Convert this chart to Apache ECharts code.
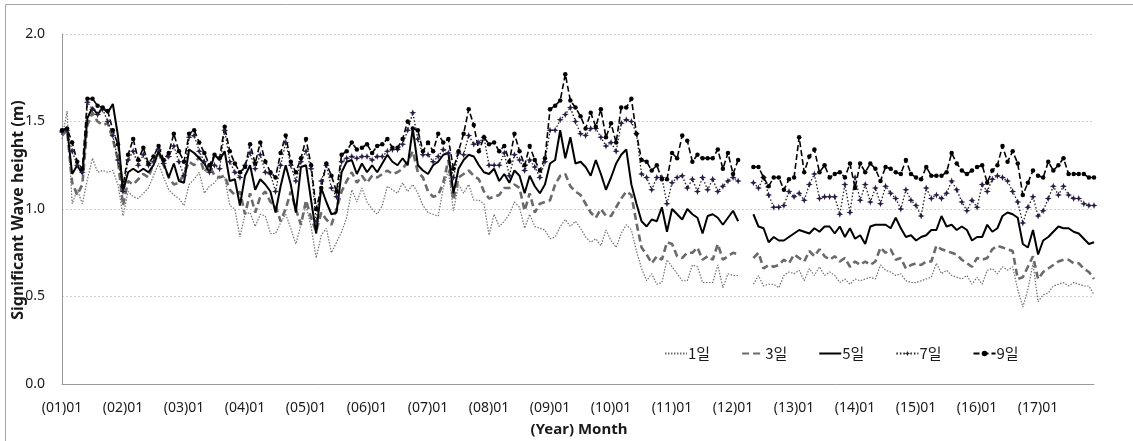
<!DOCTYPE html>
<html>
<head>
<meta charset="utf-8">
<script src="https://cdn.jsdelivr.net/npm/echarts@6/dist/echarts.min.js"></script>
<style>
  html, body { margin: 0; padding: 0; background: #fff; }
  #chart { width: 1133px; height: 441px; }
</style>
</head>
<body>
<div id="chart"></div>
<script>
// Monthly significant wave height (m), 2001-01 .. 2017-12, five averaging windows.
const years = ['01','02','03','04','05','06','07','08','09','10','11','12','13','14','15','16','17'];
const months = ['01','02','03','04','05','06','07','08','09','10','11','12'];
const yTicks = [0, 0.5, 1.0, 1.5, 2.0];
const seriesNames = ['1일', '3일', '5일', '7일', '9일'];

const day1 = [
  1.40, 1.56, 1.03, 1.11, 1.03, 1.17, 1.29, 1.21, 1.22, 1.21, 1.22, 1.14,
  0.96, 1.10, 1.07, 1.06, 1.09, 1.12, 1.19, 1.26, 1.18, 1.11, 1.08, 1.06,
  1.02, 1.14, 1.17, 1.21, 1.09, 1.13, 1.15, 1.19, 1.18, 1.02, 1.00, 0.84,
  0.97, 0.98, 0.90, 0.97, 0.96, 0.86, 0.86, 0.92, 0.97, 0.89, 0.80, 0.91,
  1.02, 0.90, 0.72, 0.85, 0.89, 0.75, 0.81, 0.87, 0.95, 1.11, 1.04, 1.12,
  1.04, 1.00, 0.97, 1.02, 1.13, 1.11, 1.09, 1.15, 1.10, 1.14, 1.09, 1.02,
  0.98, 0.97, 0.96, 1.12, 1.22, 0.99, 1.14, 1.09, 1.14, 1.05, 1.05, 1.03,
  0.85, 0.97, 0.90, 0.93, 0.97, 1.04, 1.01, 0.89, 0.97, 0.90, 0.89, 0.88,
  0.83, 0.84, 0.90, 0.94, 0.90, 0.93, 0.89, 0.84, 0.81, 0.83, 0.79, 0.88,
  0.82, 0.78, 0.86, 0.91, 0.88, 0.76, 0.66, 0.59, 0.63, 0.57, 0.58, 0.71,
  0.67, 0.63, 0.59, 0.59, 0.68, 0.67, 0.58, 0.58, 0.58, 0.68, 0.55, 0.63,
  0.62, 0.62, null, null, 0.57, 0.62, 0.56, 0.57, 0.57, 0.55, 0.62, 0.64,
  0.63, 0.65, 0.59, 0.66, 0.62, 0.67, 0.62, 0.64, 0.62, 0.58, 0.60, 0.57,
  0.60, 0.59, 0.60, 0.61, 0.60, 0.68, 0.65, 0.64, 0.62, 0.63, 0.59, 0.58,
  0.58, 0.59, 0.60, 0.61, 0.69, 0.63, 0.65, 0.62, 0.61, 0.60, 0.62, 0.57,
  0.61, 0.57, 0.65, 0.66, 0.63, 0.67, 0.65, 0.67, 0.54, 0.44, 0.54, 0.69,
  0.47, 0.51, 0.52, 0.56, 0.57, 0.58, 0.56, 0.58, 0.57, 0.56, 0.56, 0.51
];

const day3 = [
  1.42, 1.45, 1.15, 1.08, 1.14, 1.48, 1.55, 1.50, 1.48, 1.49, 1.40, 1.28,
  1.02, 1.16, 1.14, 1.17, 1.20, 1.18, 1.26, 1.32, 1.25, 1.18, 1.14, 1.15,
  1.20, 1.27, 1.25, 1.30, 1.21, 1.25, 1.19, 1.18, 1.19, 1.11, 1.08, 1.10,
  0.97, 1.09, 0.98, 1.07, 1.10, 1.04, 1.02, 0.93, 1.00, 1.10, 1.00, 0.91,
  1.05, 0.95, 0.87, 0.98, 0.94, 0.91, 1.00, 1.10, 1.16, 1.21, 1.15, 1.19,
  1.15, 1.19, 1.18, 1.20, 1.22, 1.20, 1.21, 1.23, 1.27, 1.33, 1.21, 1.18,
  1.10, 1.07, 1.08, 1.15, 1.28, 1.05, 1.18, 1.20, 1.22, 1.19, 1.17, 1.10,
  1.06, 1.07, 1.08, 1.12, 1.12, 1.14, 1.12, 0.99, 1.09, 0.98, 1.03, 1.04,
  1.05, 1.14, 1.19, 1.20, 1.13, 1.10, 1.08, 1.03, 0.98, 0.95, 1.00, 0.96,
  0.96, 1.01, 1.06, 1.10, 1.08, 0.92, 0.78, 0.74, 0.69, 0.73, 0.71, 0.81,
  0.80, 0.73, 0.72, 0.75, 0.75, 0.78, 0.71, 0.73, 0.71, 0.80, 0.71, 0.73,
  0.75, 0.74, null, null, 0.72, 0.75, 0.66, 0.68, 0.67, 0.68, 0.71, 0.69,
  0.74, 0.72, 0.70, 0.76, 0.73, 0.77, 0.73, 0.71, 0.73, 0.70, 0.72, 0.67,
  0.70, 0.68, 0.70, 0.68, 0.70, 0.78, 0.75, 0.77, 0.71, 0.72, 0.66, 0.68,
  0.69, 0.68, 0.70, 0.70, 0.79, 0.77, 0.76, 0.75, 0.74, 0.71, 0.69, 0.67,
  0.72, 0.71, 0.72, 0.77, 0.79, 0.78, 0.77, 0.76, 0.60, 0.61, 0.67, 0.73,
  0.60, 0.64, 0.66, 0.68, 0.70, 0.71, 0.71, 0.69, 0.69, 0.66, 0.64, 0.60
];

const day5 = [
  1.45, 1.46, 1.20, 1.25, 1.20, 1.52, 1.58, 1.54, 1.58, 1.55, 1.60, 1.42,
  1.10, 1.21, 1.23, 1.21, 1.23, 1.21, 1.25, 1.33, 1.26, 1.18, 1.26, 1.16,
  1.15, 1.34, 1.32, 1.29, 1.26, 1.21, 1.31, 1.28, 1.33, 1.16, 1.17, 1.02,
  1.19, 1.25, 1.11, 1.17, 1.14, 1.10, 0.98, 1.13, 1.25, 1.14, 0.98, 1.24,
  1.25, 1.05, 0.86, 1.12, 1.04, 0.97, 0.98, 1.21, 1.27, 1.28, 1.20, 1.26,
  1.21, 1.25, 1.21, 1.26, 1.31, 1.27, 1.25, 1.29, 1.25, 1.46, 1.25, 1.22,
  1.20, 1.25, 1.27, 1.31, 1.32, 1.09, 1.23, 1.28, 1.31, 1.30, 1.25, 1.21,
  1.20, 1.23, 1.16, 1.20, 1.15, 1.22, 1.19, 1.09, 1.19, 1.13, 1.09, 1.14,
  1.26, 1.28, 1.45, 1.29, 1.41, 1.26, 1.27, 1.24, 1.19, 1.28, 1.20, 1.11,
  1.18, 1.26, 1.31, 1.34, 1.14, 1.03, 0.93, 0.90, 0.94, 0.93, 1.01, 0.87,
  1.00, 0.97, 0.94, 1.00, 0.97, 0.95, 0.86, 0.96, 0.97, 0.95, 0.91, 0.95,
  0.99, 0.93, null, null, 0.97, 0.90, 0.89, 0.81, 0.84, 0.82, 0.82, 0.84,
  0.86, 0.88, 0.87, 0.86, 0.89, 0.87, 0.90, 0.90, 0.86, 0.90, 0.84, 0.89,
  0.83, 0.85, 0.80, 0.90, 0.91, 0.91, 0.91, 0.89, 0.95, 0.89, 0.84, 0.85,
  0.82, 0.84, 0.85, 0.88, 0.88, 0.96, 0.90, 0.91, 0.88, 0.90, 0.88, 0.82,
  0.84, 0.84, 0.91, 0.87, 0.89, 0.96, 0.98, 0.97, 0.95, 0.80, 0.78, 0.88,
  0.74, 0.82, 0.84, 0.87, 0.90, 0.89, 0.89, 0.87, 0.86, 0.83, 0.80, 0.81
];

const day7 = [
  1.44, 1.45, 1.33, 1.25, 1.21, 1.61, 1.57, 1.54, 1.57, 1.50, 1.42, 1.28,
  1.10, 1.28, 1.33, 1.25, 1.31, 1.25, 1.27, 1.34, 1.26, 1.30, 1.36, 1.27,
  1.19, 1.41, 1.42, 1.33, 1.27, 1.21, 1.25, 1.23, 1.45, 1.27, 1.21, 1.18,
  1.25, 1.32, 1.23, 1.31, 1.21, 1.20, 1.10, 1.25, 1.38, 1.25, 1.16, 1.27,
  1.33, 1.23, 0.93, 1.16, 1.25, 1.12, 1.07, 1.27, 1.29, 1.30, 1.29, 1.30,
  1.30, 1.28, 1.30, 1.30, 1.33, 1.34, 1.34, 1.37, 1.45, 1.55, 1.40, 1.31,
  1.31, 1.27, 1.30, 1.34, 1.32, 1.18, 1.32, 1.31, 1.42, 1.37, 1.38, 1.41,
  1.25, 1.25, 1.25, 1.32, 1.19, 1.31, 1.28, 1.22, 1.28, 1.24, 1.18, 1.27,
  1.45, 1.45, 1.51, 1.54, 1.58, 1.50, 1.43, 1.42, 1.46, 1.46, 1.41, 1.36,
  1.38, 1.33, 1.49, 1.51, 1.50, 1.43, 1.20, 1.18, 1.11, 1.18, 1.18, 1.03,
  1.15, 1.18, 1.19, 1.12, 1.17, 1.10, 1.18, 1.11, 1.17, 1.10, 1.13, 1.16,
  1.18, 1.16, null, null, 1.15, 1.12, 1.18, 1.08, 1.01, 1.01, 1.02, 1.10,
  1.07, 1.09, 1.05, 1.14, 1.20, 1.06, 1.07, 1.07, 1.07, 0.97, 1.14, 0.98,
  1.18, 1.05, 1.14, 1.04, 1.12, 1.03, 1.13, 1.09, 1.06, 1.00, 1.11, 1.05,
  1.02, 0.96, 1.12, 1.06, 1.08, 1.06, 1.09, 1.16, 1.11, 1.04, 0.99, 1.05,
  1.01, 1.14, 1.10, 1.17, 1.19, 1.18, 1.16, 1.10, 1.04, 0.92, 1.01, 1.07,
  0.96, 0.99, 1.06, 1.13, 1.08, 1.13, 1.08, 1.06, 1.06, 1.03, 1.02, 1.02
];

const day9 = [
  1.45, 1.46, 1.38, 1.27, 1.23, 1.63, 1.63, 1.59, 1.58, 1.56, 1.45, 1.37,
  1.13, 1.31, 1.40, 1.28, 1.35, 1.26, 1.30, 1.36, 1.28, 1.32, 1.43, 1.33,
  1.27, 1.43, 1.45, 1.38, 1.32, 1.25, 1.31, 1.29, 1.47, 1.33, 1.26, 1.21,
  1.24, 1.37, 1.26, 1.38, 1.27, 1.21, 1.18, 1.32, 1.42, 1.27, 1.21, 1.29,
  1.40, 1.25, 1.00, 1.12, 1.26, 1.19, 1.10, 1.31, 1.33, 1.38, 1.34, 1.35,
  1.37, 1.32, 1.36, 1.37, 1.40, 1.35, 1.35, 1.40, 1.50, 1.46, 1.45, 1.33,
  1.38, 1.33, 1.43, 1.38, 1.40, 1.23, 1.33, 1.43, 1.57, 1.48, 1.33, 1.41,
  1.37, 1.38, 1.33, 1.36, 1.27, 1.43, 1.33, 1.25, 1.36, 1.28, 1.22, 1.29,
  1.57, 1.59, 1.62, 1.77, 1.62, 1.58, 1.53, 1.46, 1.55, 1.47, 1.57, 1.41,
  1.49, 1.38, 1.58, 1.58, 1.63, 1.43, 1.28, 1.27, 1.22, 1.25, 1.17, 1.17,
  1.32, 1.29, 1.42, 1.39, 1.27, 1.31, 1.29, 1.29, 1.29, 1.34, 1.23, 1.32,
  1.20, 1.28, null, null, 1.24, 1.24, 1.18, 1.13, 1.18, 1.18, 1.11, 1.17,
  1.18, 1.41, 1.21, 1.30, 1.34, 1.21, 1.25, 1.18, 1.20, 1.21, 1.18, 1.26,
  1.12, 1.26, 1.21, 1.26, 1.23, 1.16, 1.24, 1.23, 1.21, 1.20, 1.28, 1.20,
  1.18, 1.17, 1.24, 1.19, 1.19, 1.19, 1.21, 1.32, 1.26, 1.22, 1.20, 1.22,
  1.24, 1.25, 1.15, 1.22, 1.25, 1.36, 1.27, 1.33, 1.26, 1.08, 1.15, 1.22,
  1.19, 1.18, 1.27, 1.22, 1.25, 1.29, 1.20, 1.20, 1.20, 1.20, 1.18, 1.18
];

// Category labels "(YY)MM"; only January of each year is shown on the axis.
const categories = [];
years.forEach(y => months.forEach(m => categories.push('(' + y + ')' + m)));

const FONT = '"Noto Sans", "Noto Sans CJK KR", sans-serif';
const starPath = 'path://M0,-10 L2.6,-2.6 L10,0 L2.6,2.6 L0,10 L-2.6,2.6 L-10,0 L-2.6,-2.6 Z';
const hiddenMark = { color: 'rgba(0,0,0,0)', borderWidth: 0 };

const chart = echarts.init(document.getElementById('chart'), null, { renderer: 'canvas' });

chart.setOption({
  animation: false,
  backgroundColor: '#ffffff',
  grid: { left: 62, right: 39, top: 34, bottom: 57, containLabel: false },
  legend: {
    data: [
      { name: seriesNames[0], itemStyle: hiddenMark },
      { name: seriesNames[1], itemStyle: hiddenMark },
      { name: seriesNames[2], itemStyle: hiddenMark },
      { name: seriesNames[3] },
      { name: seriesNames[4] }
    ],
    left: 659,
    top: 341,
    itemWidth: 22,
    itemHeight: 7,
    itemGap: 31,
    textStyle: { fontFamily: '"Noto Sans CJK KR", sans-serif', fontSize: 15, color: '#1a1a1a', padding: [0, 0, 0, -4] }
  },
  xAxis: {
    type: 'category',
    data: categories,
    boundaryGap: false,
    axisLine: { show: true, lineStyle: { color: '#9a9a9a', width: 1 } },
    axisTick: { show: false },
    axisLabel: {
      interval: 11,
      margin: 17,
      fontFamily: FONT,
      fontSize: 14,
      color: '#1a1a1a'
    },
    splitLine: { show: false }
  },
  yAxis: {
    type: 'value',
    min: yTicks[0],
    max: yTicks[yTicks.length - 1],
    interval: 0.5,
    axisLine: { show: true, lineStyle: { color: '#9a9a9a', width: 1 } },
    axisTick: { show: false },
    axisLabel: {
      margin: 17,
      fontFamily: FONT,
      fontSize: 14,
      color: '#1a1a1a',
      formatter: v => v.toFixed(1)
    },
    splitLine: { show: true, lineStyle: { color: '#d0d0d0', type: [2, 2], width: 1 } }
  },
  graphic: [
    {
      type: 'rect', silent: true, z: -1,
      shape: { x: 5.5, y: 4.5, width: 1140, height: 460 },
      style: { fill: 'none', stroke: '#a6a6a6', lineWidth: 1 }
    },
    {
      type: 'text', x: 18, y: 210, rotation: Math.PI / 2,
      style: {
        text: 'Significant Wave height (m)', fontFamily: FONT, fontSize: 16, fontWeight: 'bold',
        fill: '#1a1a1a', align: 'center', verticalAlign: 'middle'
      }
    },
    {
      type: 'text', x: 579, y: 430,
      style: {
        text: '(Year) Month', fontFamily: FONT, fontSize: 15, fontWeight: 'bold',
        fill: '#1a1a1a', align: 'center', verticalAlign: 'middle'
      }
    }
  ],
  series: [
    {
      name: seriesNames[0], type: 'line', data: day1, symbol: 'none', connectNulls: false,
      itemStyle: { color: '#707070' },
      lineStyle: { color: '#707070', width: 1.2, type: [1.5, 1.5] }
    },
    {
      name: seriesNames[1], type: 'line', data: day3, symbol: 'none', connectNulls: false,
      itemStyle: { color: '#6a6a6a' },
      lineStyle: { color: '#6a6a6a', width: 2.6, type: [7, 4] }
    },
    {
      name: seriesNames[2], type: 'line', data: day5, symbol: 'none', connectNulls: false,
      itemStyle: { color: '#000000' },
      lineStyle: { color: '#000000', width: 2 }
    },
    {
      name: seriesNames[3], type: 'line', data: day7, connectNulls: false,
      symbol: starPath, symbolSize: 7, showSymbol: true, showAllSymbol: true,
      itemStyle: { color: '#2a1a45', borderWidth: 0 },
      lineStyle: { color: '#1f1f1f', width: 1.3, type: [1.5, 2] }
    },
    {
      name: seriesNames[4], type: 'line', data: day9, connectNulls: false,
      symbol: 'circle', symbolSize: 4.5, showSymbol: true, showAllSymbol: true,
      itemStyle: { color: '#000000', borderWidth: 0 },
      lineStyle: { color: '#000000', width: 1.6, type: [6, 3] }
    }
  ]
});
</script>
</body>
</html>
